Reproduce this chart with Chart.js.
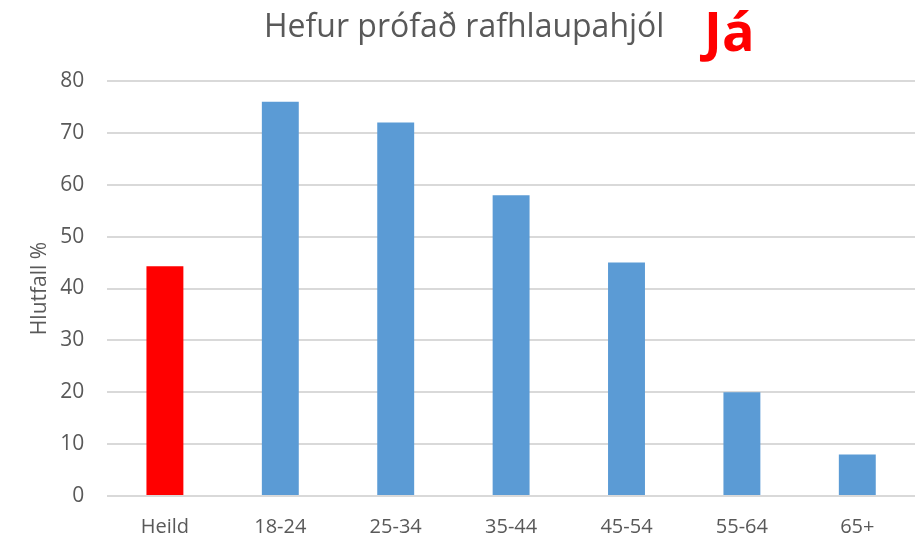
<!DOCTYPE html>
<html>
<head>
<meta charset="utf-8">
<script src="https://cdn.jsdelivr.net/npm/chart.js@4"></script>
<style>
html,body{margin:0;padding:0;background:#fff;}
#wrap{width:922px;height:537px;position:relative;}
</style>
</head>
<body>
<div id="wrap"><canvas id="c" width="922" height="537"></canvas></div>
<script>
const categories = ["Heild", "18-24", "25-34", "35-44", "45-54", "55-64", "65+"];
const values = [44.3, 76, 72, 58, 45, 20, 8];
const barColors = ["#ff0000", "#5b9bd5", "#5b9bd5", "#5b9bd5", "#5b9bd5", "#5b9bd5", "#5b9bd5"];
const yTicks = [0, 10, 20, 30, 40, 50, 60, 70, 80];
const titleText = "Hefur prófað rafhlaupahjól";
const titleAnswer = "Já";
const yAxisTitle = "Hlutfall %";

const FONT = "'Open Sans', sans-serif";

const titlePlugin = {
  id: 'twoPartTitle',
  afterDraw(chart) {
    const ctx = chart.ctx;
    ctx.save();
    ctx.textBaseline = 'alphabetic';
    ctx.textAlign = 'left';
    ctx.fillStyle = '#595959';
    ctx.font = "32px " + FONT;
    ctx.fillText(titleText, 264, 37);
    ctx.fillStyle = '#ff0000';
    ctx.font = "bold 54px " + FONT;
    ctx.fillText(titleAnswer, 704, 51);
    ctx.restore();
  }
};

new Chart(document.getElementById('c'), {
  type: 'bar',
  data: {
    labels: categories,
    datasets: [{
      data: values,
      backgroundColor: barColors,
      borderWidth: 0,
      barPercentage: 0.32,
      categoryPercentage: 1.0
    }]
  },
  options: {
    responsive: false,
    animation: false,
    devicePixelRatio: 1,
    layout: { padding: { top: 81, right: 7, left: 27, bottom: 0 } },
    plugins: {
      legend: { display: false },
      title: { display: false },
      tooltip: { enabled: false }
    },
    scales: {
      x: {
        grid: { display: false, drawTicks: false },
        border: { display: false },
        ticks: { color: '#595959', font: { family: FONT, size: 20 }, padding: 19, maxRotation: 0 },
        afterFit(scale) { scale.height -= 21; }
      },
      y: {
        min: 0, max: 80,
        afterBuildTicks(axis) { axis.ticks = yTicks.map(v => ({ value: v })); },
        grid: { color: '#d9d9d9', lineWidth: 2, drawTicks: false },
        border: { display: false },
        ticks: { color: '#595959', font: { family: FONT, size: 21 }, padding: 23 },
        title: { display: true, text: yAxisTitle, color: '#595959', font: { family: FONT, size: 21 }, padding: { top: 0, bottom: 8 } },
        afterFit(scale) { scale.width -= 23; }
      }
    }
  },
  plugins: [titlePlugin]
});
</script>
</body>
</html>
